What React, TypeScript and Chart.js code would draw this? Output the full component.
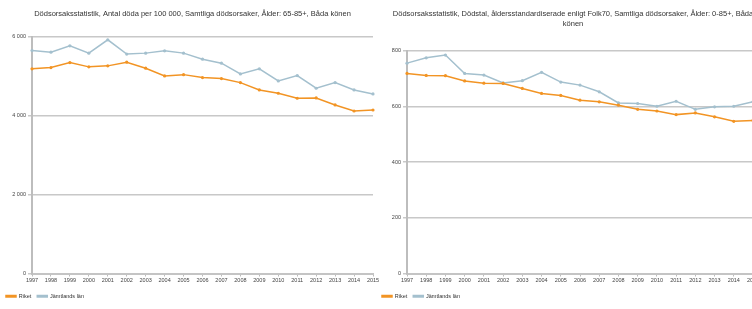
import React, { useEffect, useRef } from "react";
import { Chart, registerables } from "chart.js";

Chart.register(...registerables);

const years = ["1997","1998","1999","2000","2001","2002","2003","2004","2005","2006","2007","2008","2009","2010","2011","2012","2013","2014","2015"];

const leftRiket = [5186, 5219, 5346, 5237, 5262, 5355, 5203, 5008, 5040, 4965, 4939, 4838, 4652, 4568, 4441, 4449, 4271, 4118, 4143];
const leftJamtland = [5651, 5610, 5770, 5585, 5923, 5560, 5585, 5643, 5585, 5432, 5331, 5059, 5186, 4881, 5016, 4695, 4838, 4652, 4550];

const rightRiket = [719, 712, 711, 692, 684, 683, 665, 647, 640, 623, 617, 605, 590, 584, 571, 577, 563, 547, 550];
const rightJamtland = [756, 775, 785, 719, 713, 685, 693, 723, 688, 677, 653, 613, 611, 601, 619, 590, 599, 601, 617];

const leftTitle = ["Dödsorsaksstatistik, Antal döda per 100 000, Samtliga dödsorsaker, Ålder: 65-85+, Båda könen"];
const rightTitle = [
  "Dödsorsaksstatistik, Dödstal, åldersstandardiserade enligt Folk70, Samtliga dödsorsaker, Ålder: 0-85+, Båda",
  "könen",
];

const seriesNames = ["Riket", "Jämtlands län"];

const ORANGE = "rgb(242,148,36)";
const BLUE = "rgb(164,192,206)";
const FONT = "'Liberation Sans', Arial, sans-serif";

function fmt(v: number) {
  return String(v).replace(/\B(?=(\d{3})+(?!\d))/g, " ");
}

type Cfg = {
  riket: number[];
  jamt: number[];
  title: string[];
  max: number;
  step: number;
  yWidth: number;
  padRight: number;
  titleBottom: number;
};

function makeChart(canvas: HTMLCanvasElement, c: Cfg) {
  const ds = (label: string, data: number[], color: string) => ({
    label,
    data,
    borderColor: color,
    backgroundColor: color,
    borderWidth: 1.5,
    pointRadius: 1.6,
    pointBorderWidth: 0,
    pointBackgroundColor: color,
    tension: 0,
  });
  return new Chart(canvas, {
    type: "line",
    data: {
      labels: years,
      datasets: [ds(seriesNames[0], c.riket, ORANGE), ds(seriesNames[1], c.jamt, BLUE)],
    },
    options: {
      animation: false,
      responsive: false,
      devicePixelRatio: 1,
      layout: { padding: { left: 0, right: 0, top: 0, bottom: 0 } },
      plugins: {
        tooltip: { enabled: false },
        title: {
          display: true,
          text: c.title,
          color: "#333",
          font: { family: FONT, size: 7.5, weight: "normal", lineHeight: 1.3 },
          padding: { top: 9, bottom: c.titleBottom },
        },
        legend: {
          display: true,
          position: "bottom",
          align: "start",
          labels: {
            color: "#333",
            font: { family: FONT, size: 5.5 },
            usePointStyle: false,
            boxWidth: 10,
            boxHeight: 1.5,
            padding: 6,
          },
        },
      },
      scales: {
        x: {
          type: "category",
          offset: false,
          grid: {
            display: true,
            drawOnChartArea: false,
            drawTicks: true,
            tickLength: 3,
            color: "#bbb",
            offset: false,
          },
          border: { display: true, color: "#c4c4c4", width: 2 },
          ticks: {
            color: "#444",
            font: { family: FONT, size: 5.5 },
            maxRotation: 0,
            minRotation: 0,
            autoSkip: false,
            padding: 1,
          },
          afterFit: (s: any) => {
            s.height = 14;
          },
        },
        y: {
          min: 0,
          max: c.max,
          grid: { color: "#c8c8c8", lineWidth: 1.5, tickLength: 4, drawTicks: true },
          border: { display: true, color: "#bdbdbd", width: 2 },
          ticks: {
            stepSize: c.step,
            color: "#444",
            font: { family: FONT, size: 5.5 },
            padding: 2,
            callback: (v: any) => fmt(Number(v)),
          },
          afterFit: (s: any) => {
            s.width = c.yWidth;
          },
        },
        yPad: {
          type: "linear",
          position: "right",
          display: true,
          grid: { display: false, drawOnChartArea: false, drawTicks: false },
          border: { display: false },
          ticks: { display: false },
          afterFit: (s: any) => {
            s.width = c.padRight;
          },
        },
      },
    },
  } as any);
}

function ChartBox(props: { cfg: Cfg; left: number; width: number }) {
  const ref = useRef<HTMLCanvasElement | null>(null);
  useEffect(() => {
    if (!ref.current) return;
    const ch = makeChart(ref.current, props.cfg);
    return () => ch.destroy();
  }, []);
  return (
    <canvas
      ref={ref}
      width={props.width}
      height={309}
      style={{ position: "absolute", left: props.left, top: 0, width: props.width, height: 309 }}
    />
  );
}

export default function App() {
  return (
    <div
      style={{
        position: "absolute",
        left: 0,
        top: 0,
        width: 752,
        height: 309,
        overflow: "hidden",
        background: "#fff",
      }}
    >
      <ChartBox
        left={0}
        width={385}
        cfg={{ riket: leftRiket, jamt: leftJamtland, title: leftTitle, max: 6000, step: 2000, yWidth: 32, padRight: 12, titleBottom: 18 }}
      />
      <ChartBox
        left={376}
        width={394}
        cfg={{ riket: rightRiket, jamt: rightJamtland, title: rightTitle, max: 800, step: 200, yWidth: 31, padRight: 17, titleBottom: 22.4 }}
      />
    </div>
  );
}
